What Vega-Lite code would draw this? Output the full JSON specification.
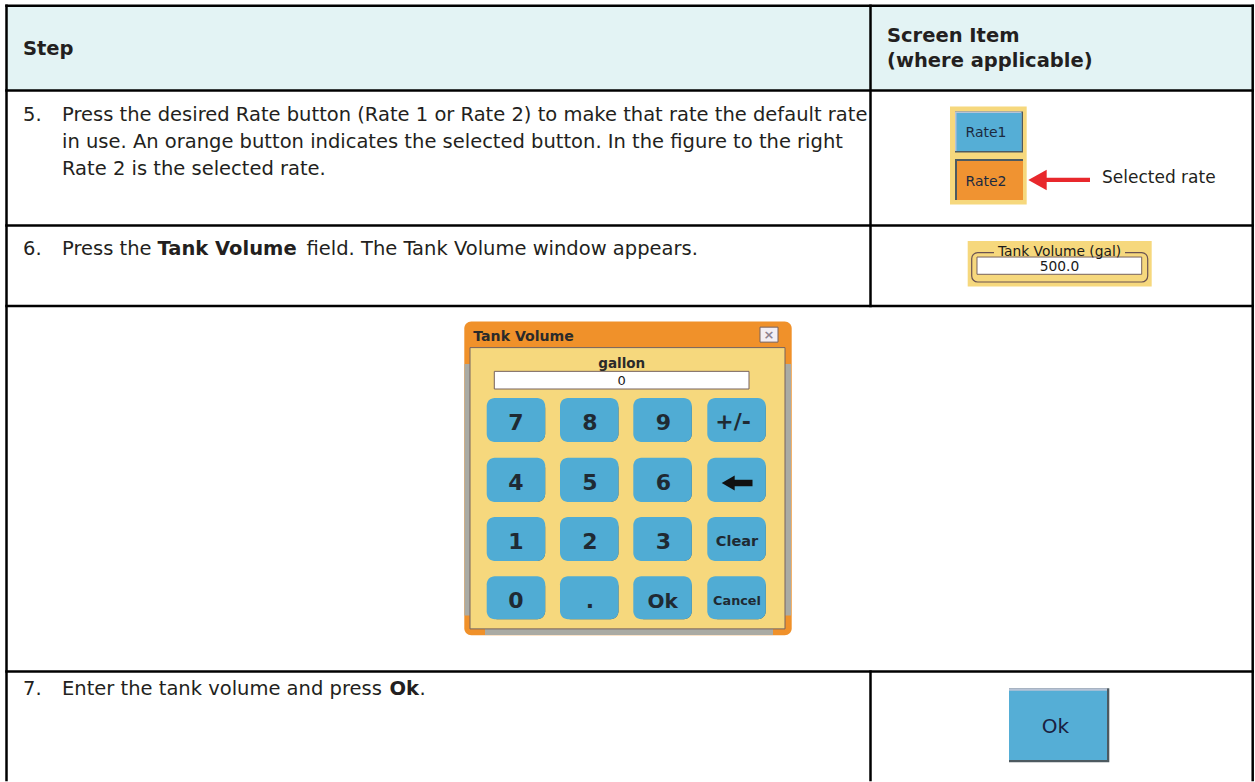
{
  "$schema": "https://vega.github.io/schema/vega-lite/v6.json",
  "width": 1255,
  "height": 782,
  "autosize": {"type": "fit", "contains": "padding"},
  "padding": 0,
  "background": "#ffffff",
  "config": {"view": {"stroke": null}},
  "datasets": {
    "window": [{"x": 464.3, "x2": 791.7, "y": 322.3, "y2": 637, "part": "window"}],
    "squares": [
      {"x": 6.5, "x2": 1252.7, "y": 5.7, "y2": 90.7, "part": "header"},
      {"x": 950, "x2": 1026.7, "y": 106.7, "y2": 205, "part": "panel"},
      {"x": 955, "x2": 1023, "y": 111.7, "y2": 153, "part": "btnedge"},
      {"x": 955, "x2": 1021.5, "y": 111.7, "y2": 151.5, "part": "btnlight"},
      {"x": 956.5, "x2": 1021.5, "y": 113.2, "y2": 151.5, "part": "blue"},
      {"x": 955, "x2": 1023, "y": 159.5, "y2": 200.5, "part": "btnedge"},
      {"x": 957, "x2": 1023, "y": 161.5, "y2": 200.5, "part": "orange"},
      {"x": 967.7, "x2": 1151.7, "y": 241.7, "y2": 287.3, "part": "panel"},
      {"x": 464.5, "x2": 470, "y": 365, "y2": 617, "part": "gray"},
      {"x": 785, "x2": 791, "y": 365, "y2": 617, "part": "gray"},
      {"x": 485, "x2": 773, "y": 630.5, "y2": 636.7, "part": "gray"},
      {"x": 1009, "x2": 1109.3, "y": 690, "y2": 764.3, "part": "btnedge"},
      {"x": 1009, "x2": 1107, "y": 690, "y2": 693, "part": "btnlight"},
      {"x": 1009, "x2": 1107, "y": 692.5, "y2": 762, "part": "blue"}
    ],
    "outline": [{"x": 971.7, "x2": 1147.7, "y": 253.3, "y2": 282.7}],
    "labelbg": [{"x": 994, "x2": 1125, "y": 246, "y2": 257, "part": "panel"}],
    "stroked": [
      {"x": 470, "x2": 785, "y": 348.5, "y2": 630.5, "part": "panel"},
      {"x": 494.3, "x2": 749, "y": 372.3, "y2": 390, "part": "white"},
      {"x": 977, "x2": 1141.7, "y": 257.7, "y2": 275, "part": "white"},
      {"x": 760, "x2": 778, "y": 328, "y2": 343, "part": "close"}
    ],
    "keys": [
      {"x": 486.7, "x2": 545.2, "y": 399, "y2": 443.2},
      {"x": 560, "x2": 618.5, "y": 399, "y2": 443.2},
      {"x": 633.3, "x2": 691.8, "y": 399, "y2": 443.2},
      {"x": 707.3, "x2": 765.8, "y": 399, "y2": 443.2},
      {"x": 486.7, "x2": 545.2, "y": 459, "y2": 503.2},
      {"x": 560, "x2": 618.5, "y": 459, "y2": 503.2},
      {"x": 633.3, "x2": 691.8, "y": 459, "y2": 503.2},
      {"x": 707.3, "x2": 765.8, "y": 459, "y2": 503.2},
      {"x": 486.7, "x2": 545.2, "y": 518.3, "y2": 562.5},
      {"x": 560, "x2": 618.5, "y": 518.3, "y2": 562.5},
      {"x": 633.3, "x2": 691.8, "y": 518.3, "y2": 562.5},
      {"x": 707.3, "x2": 765.8, "y": 518.3, "y2": 562.5},
      {"x": 486.7, "x2": 545.2, "y": 577.7, "y2": 620.8},
      {"x": 560, "x2": 618.5, "y": 577.7, "y2": 620.8},
      {"x": 633.3, "x2": 691.8, "y": 577.7, "y2": 620.8},
      {"x": 707.3, "x2": 765.8, "y": 577.7, "y2": 620.8}
    ],
    "shafts": [
      {"x": 1046, "x2": 1090, "y": 178.3, "y2": 182.5, "part": "red"},
      {"x": 734, "x2": 752.5, "y": 481, "y2": 487.5, "part": "black"}
    ],
    "redhead": [{"x": 1037.5, "y": 180.4, "part": "red"}],
    "blackhead": [{"x": 728.2, "y": 484.2, "part": "black"}],
    "rules": [
      {"x": 6.5, "y": 5.7, "x2": 1252.7, "y2": 5.7},
      {"x": 6.5, "y": 5.7, "x2": 6.5, "y2": 782},
      {"x": 1252.7, "y": 5.7, "x2": 1252.7, "y2": 782},
      {"x": 6.5, "y": 90.7, "x2": 1252.7, "y2": 90.7},
      {"x": 6.5, "y": 226, "x2": 1252.7, "y2": 226},
      {"x": 6.5, "y": 306.7, "x2": 1252.7, "y2": 306.7},
      {"x": 6.5, "y": 673.3, "x2": 1252.7, "y2": 673.3},
      {"x": 870.5, "y": 5.7, "x2": 870.5, "y2": 306.7},
      {"x": 870.5, "y": 673.3, "x2": 870.5, "y2": 782}
    ],
    "body": [
      {"x": 23, "y": 121.7, "text": "5."},
      {"x": 62, "y": 121.7, "text": "Press the desired Rate button (Rate 1 or Rate 2) to make that rate the default rate"},
      {"x": 62, "y": 148.3, "text": "in use. An orange button indicates the selected button. In the figure to the right"},
      {"x": 62, "y": 175, "text": "Rate 2 is the selected rate."},
      {"x": 23, "y": 255.7, "text": "6."},
      {"x": 62, "y": 255.7, "text": "Press the"},
      {"x": 306.5, "y": 255.7, "text": "field. The Tank Volume window appears."},
      {"x": 23, "y": 696.7, "text": "7."},
      {"x": 62, "y": 696.7, "text": "Enter the tank volume and press"},
      {"x": 419.5, "y": 696.7, "text": "."}
    ],
    "bold": [
      {"x": 23, "y": 55, "text": "Step"},
      {"x": 887, "y": 41.7, "text": "Screen Item"},
      {"x": 887, "y": 66.7, "text": "(where applicable)"},
      {"x": 157.5, "y": 255.7, "text": "Tank Volume"},
      {"x": 389.5, "y": 696.7, "text": "Ok"}
    ],
    "selrate": [{"x": 1102, "y": 183.3, "text": "Selected rate"}],
    "ratelbl": [
      {"x": 986, "y": 137.3, "text": "Rate1"},
      {"x": 986, "y": 186.3, "text": "Rate2"}
    ],
    "fieldlbl": [
      {"x": 1059.5, "y": 256.5, "text": "Tank Volume (gal)"},
      {"x": 1059.5, "y": 271.7, "text": "500.0"}
    ],
    "kptitle": [{"x": 473.3, "y": 342, "text": "Tank Volume"}],
    "kpunit": [{"x": 621.7, "y": 369, "text": "gallon"}],
    "kpzero": [{"x": 621.7, "y": 385.5, "text": "0"}],
    "kpdigits": [
      {"x": 516, "y": 431, "text": "7"},
      {"x": 590, "y": 431, "text": "8"},
      {"x": 663.5, "y": 431, "text": "9"},
      {"x": 733, "y": 430.5, "text": "+/-"},
      {"x": 516, "y": 491, "text": "4"},
      {"x": 590, "y": 491, "text": "5"},
      {"x": 663.5, "y": 491, "text": "6"},
      {"x": 516, "y": 550, "text": "1"},
      {"x": 590, "y": 550, "text": "2"},
      {"x": 663.5, "y": 550, "text": "3"},
      {"x": 516, "y": 610, "text": "0"},
      {"x": 590, "y": 610, "text": "."}
    ],
    "kpok": [{"x": 662.7, "y": 610, "text": "Ok"}],
    "kpclear": [{"x": 737, "y": 547.5, "text": "Clear"}],
    "kpcancel": [{"x": 737, "y": 606.5, "text": "Cancel"}],
    "closex": [{"x": 769, "y": 340, "text": "×"}],
    "okbig": [{"x": 1055.3, "y": 735, "text": "Ok"}]
  },
  "encoding": {
    "x": {"field": "x", "type": "quantitative", "scale": {"domain": [0, 1255], "nice": false, "zero": false}, "axis": null},
    "y": {"field": "y", "type": "quantitative", "scale": {"domain": [0, 782], "nice": false, "zero": false, "reverse": true}, "axis": null}
  },
  "layer": [
    {
      "data": {"name": "window"},
      "mark": {"type": "rect", "cornerRadius": 7},
      "encoding": {
        "x2": {"field": "x2"}, "y2": {"field": "y2"},
        "color": {"field": "part", "type": "nominal", "legend": null,
          "scale": {"domain": ["header","panel","btnedge","btnlight","blue","orange","gray","close","white","shadow","kblue","red","black","window"],
                    "range": ["#e3f3f4","#f6d87d","#4d5a60","#b7c3d6","#55aed6","#f09331","#aaaba4","#f3eef3","#ffffff","#4a524c","#50acd4","#e8282c","#111111","#f0912a"]}}
      }
    },
    {
      "data": {"name": "squares"},
      "mark": {"type": "rect"},
      "encoding": {
        "x2": {"field": "x2"}, "y2": {"field": "y2"},
        "color": {"field": "part", "type": "nominal", "legend": null,
          "scale": {"domain": ["header","panel","btnedge","btnlight","blue","orange","gray","close","white","shadow","kblue","red","black","window"],
                    "range": ["#e3f3f4","#f6d87d","#4d5a60","#b7c3d6","#55aed6","#f09331","#aaaba4","#f3eef3","#ffffff","#4a524c","#50acd4","#e8282c","#111111","#f0912a"]}}
      }
    },
    {
      "data": {"name": "outline"},
      "mark": {"type": "rect", "filled": false, "color": "#6a5252", "strokeWidth": 1.2, "cornerRadius": 6},
      "encoding": {"x2": {"field": "x2"}, "y2": {"field": "y2"}}
    },
    {
      "data": {"name": "labelbg"},
      "mark": {"type": "rect"},
      "encoding": {
        "x2": {"field": "x2"}, "y2": {"field": "y2"},
        "color": {"field": "part", "type": "nominal", "legend": null,
          "scale": {"domain": ["header","panel","btnedge","btnlight","blue","orange","gray","close","white","shadow","kblue","red","black","window"],
                    "range": ["#e3f3f4","#f6d87d","#4d5a60","#b7c3d6","#55aed6","#f09331","#aaaba4","#f3eef3","#ffffff","#4a524c","#50acd4","#e8282c","#111111","#f0912a"]}}
      }
    },
    {
      "data": {"name": "stroked"},
      "mark": {"type": "rect", "stroke": "#76625e", "strokeWidth": 1},
      "encoding": {
        "x2": {"field": "x2"}, "y2": {"field": "y2"},
        "color": {"field": "part", "type": "nominal", "legend": null,
          "scale": {"domain": ["header","panel","btnedge","btnlight","blue","orange","gray","close","white","shadow","kblue","red","black","window"],
                    "range": ["#e3f3f4","#f6d87d","#4d5a60","#b7c3d6","#55aed6","#f09331","#aaaba4","#f3eef3","#ffffff","#4a524c","#50acd4","#e8282c","#111111","#f0912a"]}}
      }
    },
    {
      "data": {"name": "keys"},
      "mark": {"type": "rect", "cornerRadius": 8, "color": "#4a524c", "xOffset": 2.5, "yOffset": 2.5},
      "encoding": {"x2": {"field": "x2"}, "y2": {"field": "y2"}}
    },
    {
      "data": {"name": "keys"},
      "mark": {"type": "rect", "cornerRadius": 8, "color": "#50acd4"},
      "encoding": {"x2": {"field": "x2"}, "y2": {"field": "y2"}}
    },
    {
      "data": {"name": "shafts"},
      "mark": {"type": "rect"},
      "encoding": {
        "x2": {"field": "x2"}, "y2": {"field": "y2"},
        "color": {"field": "part", "type": "nominal", "legend": null,
          "scale": {"domain": ["header","panel","btnedge","btnlight","blue","orange","gray","close","white","shadow","kblue","red","black","window"],
                    "range": ["#e3f3f4","#f6d87d","#4d5a60","#b7c3d6","#55aed6","#f09331","#aaaba4","#f3eef3","#ffffff","#4a524c","#50acd4","#e8282c","#111111","#f0912a"]}}
      }
    },
    {
      "data": {"name": "redhead"},
      "mark": {"type": "point", "shape": "M-1,0L1,-1.12L1,1.12Z", "filled": true, "opacity": 1, "size": 339, "strokeWidth": 0},
      "encoding": {
        "color": {"field": "part", "type": "nominal", "legend": null,
          "scale": {"domain": ["header","panel","btnedge","btnlight","blue","orange","gray","close","white","shadow","kblue","red","black","window"],
                    "range": ["#e3f3f4","#f6d87d","#4d5a60","#b7c3d6","#55aed6","#f09331","#aaaba4","#f3eef3","#ffffff","#4a524c","#50acd4","#e8282c","#111111","#f0912a"]}}
      }
    },
    {
      "data": {"name": "blackhead"},
      "mark": {"type": "point", "shape": "M-1,0L1,-1.15L1,1.15Z", "filled": true, "opacity": 1, "size": 169, "strokeWidth": 0},
      "encoding": {
        "color": {"field": "part", "type": "nominal", "legend": null,
          "scale": {"domain": ["header","panel","btnedge","btnlight","blue","orange","gray","close","white","shadow","kblue","red","black","window"],
                    "range": ["#e3f3f4","#f6d87d","#4d5a60","#b7c3d6","#55aed6","#f09331","#aaaba4","#f3eef3","#ffffff","#4a524c","#50acd4","#e8282c","#111111","#f0912a"]}}
      }
    },
    {
      "data": {"name": "rules"},
      "mark": {"type": "rule", "color": "#000000", "strokeWidth": 2.5, "strokeCap": "square"},
      "encoding": {"x2": {"field": "x2"}, "y2": {"field": "y2"}}
    },
    {
      "data": {"name": "body"},
      "mark": {"type": "text", "font": "DejaVu Sans", "fontSize": 19.5, "align": "left", "baseline": "alphabetic", "color": "#231f20"},
      "encoding": {"text": {"field": "text", "type": "nominal"}}
    },
    {
      "data": {"name": "bold"},
      "mark": {"type": "text", "font": "DejaVu Sans", "fontWeight": "bold", "fontSize": 19.5, "align": "left", "baseline": "alphabetic", "color": "#231f20"},
      "encoding": {"text": {"field": "text", "type": "nominal"}}
    },
    {
      "data": {"name": "selrate"},
      "mark": {"type": "text", "font": "DejaVu Sans", "fontSize": 17, "align": "left", "baseline": "alphabetic", "color": "#231f20"},
      "encoding": {"text": {"field": "text", "type": "nominal"}}
    },
    {
      "data": {"name": "ratelbl"},
      "mark": {"type": "text", "font": "DejaVu Sans", "fontSize": 14, "align": "center", "baseline": "alphabetic", "color": "#1c2a40"},
      "encoding": {"text": {"field": "text", "type": "nominal"}}
    },
    {
      "data": {"name": "fieldlbl"},
      "mark": {"type": "text", "font": "DejaVu Sans", "fontSize": 13.8, "align": "center", "baseline": "alphabetic", "color": "#1a1a1a"},
      "encoding": {"text": {"field": "text", "type": "nominal"}}
    },
    {
      "data": {"name": "kptitle"},
      "mark": {"type": "text", "font": "DejaVu Sans", "fontWeight": "bold", "fontSize": 14.1, "align": "left", "baseline": "alphabetic", "color": "#2a2a2a"},
      "encoding": {"text": {"field": "text", "type": "nominal"}}
    },
    {
      "data": {"name": "kpunit"},
      "mark": {"type": "text", "font": "DejaVu Sans", "fontWeight": "bold", "fontSize": 13.5, "align": "center", "baseline": "alphabetic", "color": "#2a2a2a"},
      "encoding": {"text": {"field": "text", "type": "nominal"}}
    },
    {
      "data": {"name": "kpzero"},
      "mark": {"type": "text", "font": "DejaVu Sans", "fontSize": 13, "align": "center", "baseline": "alphabetic", "color": "#1a1a1a"},
      "encoding": {"text": {"field": "text", "type": "nominal"}}
    },
    {
      "data": {"name": "kpdigits"},
      "mark": {"type": "text", "font": "DejaVu Sans", "fontWeight": "bold", "fontSize": 22, "align": "center", "baseline": "alphabetic", "color": "#1f2a33"},
      "encoding": {"text": {"field": "text", "type": "nominal"}}
    },
    {
      "data": {"name": "kpok"},
      "mark": {"type": "text", "font": "DejaVu Sans", "fontWeight": "bold", "fontSize": 20, "align": "center", "baseline": "alphabetic", "color": "#1f2a33"},
      "encoding": {"text": {"field": "text", "type": "nominal"}}
    },
    {
      "data": {"name": "kpclear"},
      "mark": {"type": "text", "font": "DejaVu Sans", "fontWeight": "bold", "fontSize": 14.5, "align": "center", "baseline": "alphabetic", "color": "#1f2a33"},
      "encoding": {"text": {"field": "text", "type": "nominal"}}
    },
    {
      "data": {"name": "kpcancel"},
      "mark": {"type": "text", "font": "DejaVu Sans", "fontWeight": "bold", "fontSize": 12.8, "align": "center", "baseline": "alphabetic", "color": "#1f2a33"},
      "encoding": {"text": {"field": "text", "type": "nominal"}}
    },
    {
      "data": {"name": "closex"},
      "mark": {"type": "text", "font": "DejaVu Sans", "fontWeight": "bold", "fontSize": 13, "align": "center", "baseline": "alphabetic", "color": "#8e8290"},
      "encoding": {"text": {"field": "text", "type": "nominal"}}
    },
    {
      "data": {"name": "okbig"},
      "mark": {"type": "text", "font": "DejaVu Sans", "fontSize": 20, "align": "center", "baseline": "alphabetic", "color": "#1a2040"},
      "encoding": {"text": {"field": "text", "type": "nominal"}}
    }
  ]
}
